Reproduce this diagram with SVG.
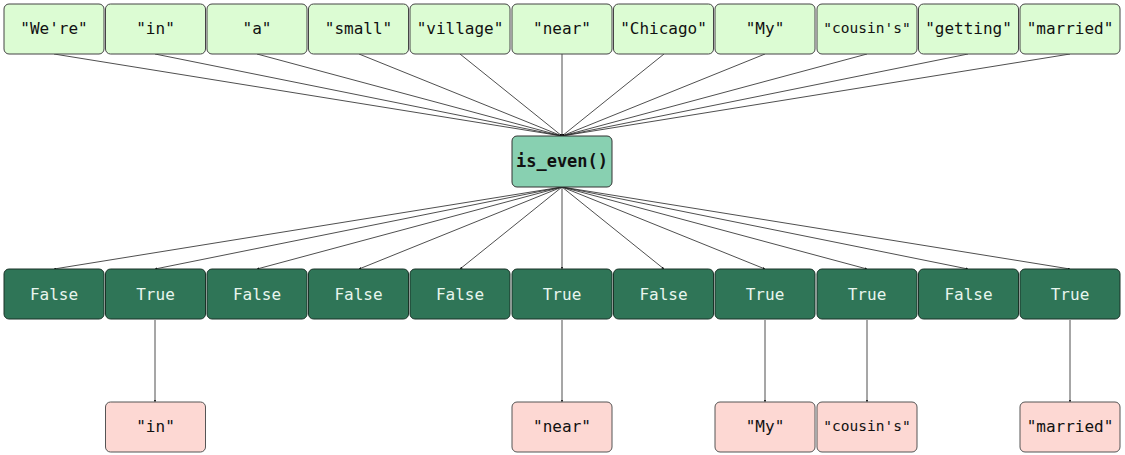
<svg xmlns="http://www.w3.org/2000/svg" width="1125" height="455" viewBox="0 0 1125 455">
<defs>
<marker id="ah" viewBox="0 0 6 6" refX="6" refY="3" markerWidth="3" markerHeight="3" orient="auto"><path d="M0,0 L6,3 L0,6 z" fill="#000"/></marker>
</defs>
<style>
.in{fill:#dcfcd3;stroke:#444;stroke-width:1}
.fn{fill:#88d0b1;stroke:#333;stroke-width:1}
.bo{fill:#2f7557;stroke:#1a3328;stroke-width:1}
.out{fill:#fdd8d3;stroke:#555;stroke-width:1}
.t{font-family:"DejaVu Sans Mono",monospace;font-size:16px;text-anchor:middle;dominant-baseline:central;fill:#111}
.s{font-size:14.5px}
.w{fill:#e8f5ee}
.b{font-weight:bold;font-size:17px}
.c line{stroke:#222;stroke-width:0.8;marker-end:url(#ah)}
</style>
<rect width="1125" height="455" fill="#fff"/>
<g class="c">
<line x1="54" y1="54" x2="562" y2="136"/>
<line x1="155" y1="54" x2="562" y2="136"/>
<line x1="257" y1="54" x2="562" y2="136"/>
<line x1="359" y1="54" x2="562" y2="136"/>
<line x1="460" y1="54" x2="562" y2="136"/>
<line x1="562" y1="54" x2="562" y2="136"/>
<line x1="664" y1="54" x2="562" y2="136"/>
<line x1="765" y1="54" x2="562" y2="136"/>
<line x1="867" y1="54" x2="562" y2="136"/>
<line x1="968" y1="54" x2="562" y2="136"/>
<line x1="1070" y1="54" x2="562" y2="136"/>
<line x1="562" y1="187" x2="54" y2="269"/>
<line x1="562" y1="187" x2="155" y2="269"/>
<line x1="562" y1="187" x2="257" y2="269"/>
<line x1="562" y1="187" x2="359" y2="269"/>
<line x1="562" y1="187" x2="460" y2="269"/>
<line x1="562" y1="187" x2="562" y2="269"/>
<line x1="562" y1="187" x2="664" y2="269"/>
<line x1="562" y1="187" x2="765" y2="269"/>
<line x1="562" y1="187" x2="867" y2="269"/>
<line x1="562" y1="187" x2="968" y2="269"/>
<line x1="562" y1="187" x2="1070" y2="269"/>
<line x1="155" y1="320" x2="155" y2="402"/>
<line x1="562" y1="320" x2="562" y2="402"/>
<line x1="765" y1="320" x2="765" y2="402"/>
<line x1="867" y1="320" x2="867" y2="402"/>
<line x1="1070" y1="320" x2="1070" y2="402"/>
</g>
<g id="in0"><rect class="in" x="4" y="4" width="100" height="50" rx="5"/><text class="t" x="54" y="28">"We're"</text></g>
<g id="in1"><rect class="in" x="105.5" y="4" width="100" height="50" rx="5"/><text class="t" x="155.5" y="28">"in"</text></g>
<g id="in2"><rect class="in" x="207" y="4" width="100" height="50" rx="5"/><text class="t" x="257" y="28">"a"</text></g>
<g id="in3"><rect class="in" x="308.5" y="4" width="100" height="50" rx="5"/><text class="t" x="358.5" y="28">"small"</text></g>
<g id="in4"><rect class="in" x="410" y="4" width="100" height="50" rx="5"/><text class="t" x="460" y="28">"village"</text></g>
<g id="in5"><rect class="in" x="512" y="4" width="100" height="50" rx="5"/><text class="t" x="562" y="28">"near"</text></g>
<g id="in6"><rect class="in" x="613.5" y="4" width="100" height="50" rx="5"/><text class="t" x="663.5" y="28">"Chicago"</text></g>
<g id="in7"><rect class="in" x="715" y="4" width="100" height="50" rx="5"/><text class="t" x="765" y="28">"My"</text></g>
<g id="in8"><rect class="in" x="817" y="4" width="100" height="50" rx="5"/><text class="t s" x="867" y="28">"cousin's"</text></g>
<g id="in9"><rect class="in" x="918.5" y="4" width="100" height="50" rx="5"/><text class="t" x="968.5" y="28">"getting"</text></g>
<g id="in10"><rect class="in" x="1020" y="4" width="100" height="50" rx="5"/><text class="t" x="1070" y="28">"married"</text></g>
<g id="fn"><rect class="fn" x="512" y="136" width="100" height="51" rx="5"/><text class="t b" x="562" y="161">is_even()</text></g>
<g id="b0"><rect class="bo" x="4" y="269" width="100" height="50" rx="5"/><text class="t w" x="54" y="294">False</text></g>
<g id="b1"><rect class="bo" x="105.5" y="269" width="100" height="50" rx="5"/><text class="t w" x="155.5" y="294">True</text></g>
<g id="b2"><rect class="bo" x="207" y="269" width="100" height="50" rx="5"/><text class="t w" x="257" y="294">False</text></g>
<g id="b3"><rect class="bo" x="308.5" y="269" width="100" height="50" rx="5"/><text class="t w" x="358.5" y="294">False</text></g>
<g id="b4"><rect class="bo" x="410" y="269" width="100" height="50" rx="5"/><text class="t w" x="460" y="294">False</text></g>
<g id="b5"><rect class="bo" x="512" y="269" width="100" height="50" rx="5"/><text class="t w" x="562" y="294">True</text></g>
<g id="b6"><rect class="bo" x="613.5" y="269" width="100" height="50" rx="5"/><text class="t w" x="663.5" y="294">False</text></g>
<g id="b7"><rect class="bo" x="715" y="269" width="100" height="50" rx="5"/><text class="t w" x="765" y="294">True</text></g>
<g id="b8"><rect class="bo" x="817" y="269" width="100" height="50" rx="5"/><text class="t w" x="867" y="294">True</text></g>
<g id="b9"><rect class="bo" x="918.5" y="269" width="100" height="50" rx="5"/><text class="t w" x="968.5" y="294">False</text></g>
<g id="b10"><rect class="bo" x="1020" y="269" width="100" height="50" rx="5"/><text class="t w" x="1070" y="294">True</text></g>
<g id="o1"><rect class="out" x="105.5" y="402" width="100" height="50" rx="5"/><text class="t" x="155.5" y="426">"in"</text></g>
<g id="o5"><rect class="out" x="512" y="402" width="100" height="50" rx="5"/><text class="t" x="562" y="426">"near"</text></g>
<g id="o7"><rect class="out" x="715" y="402" width="100" height="50" rx="5"/><text class="t" x="765" y="426">"My"</text></g>
<g id="o8"><rect class="out" x="817" y="402" width="100" height="50" rx="5"/><text class="t s" x="867" y="426">"cousin's"</text></g>
<g id="o10"><rect class="out" x="1020" y="402" width="100" height="50" rx="5"/><text class="t" x="1070" y="426">"married"</text></g>
</svg>
